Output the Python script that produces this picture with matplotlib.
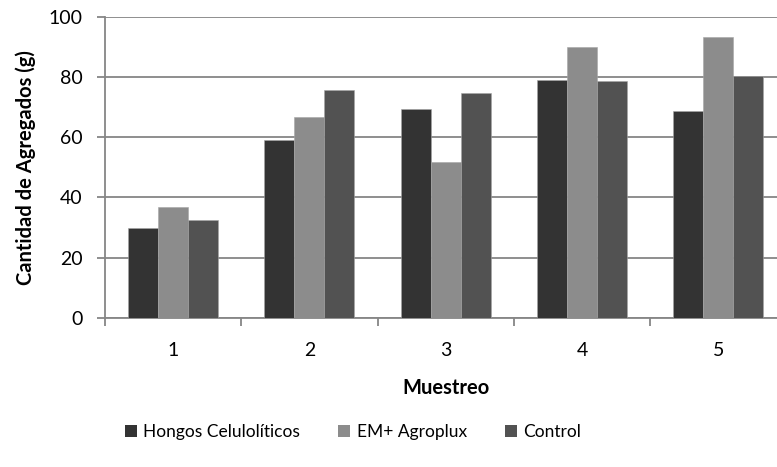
import matplotlib.pyplot as plt
from matplotlib.patches import Patch
from matplotlib.ticker import MultipleLocator

# Data
muestreos = ['1', '2', '3', '4', '5']
hongos = [30.0, 59.1, 69.5, 79.0, 68.6]
em_agroplux = [36.8, 66.7, 51.7, 89.8, 93.2]
control = [32.6, 75.6, 74.7, 78.7, 80.3]

series_names = ['Hongos Celulolíticos', 'EM+ Agroplux', 'Control']
colors = ['#333333', '#8c8c8c', '#525252']


def plot_agregados():
    plt.rcParams['font.family'] = ['Lato', 'DejaVu Sans']
    fig = plt.figure(figsize=(7.77, 4.67), dpi=100)
    # plot area runs past the right edge, as in the cropped original
    ax = fig.add_axes([105 / 777, 149 / 467, 681.5 / 777, 301.3 / 467])

    width = 0.22
    x = list(range(len(muestreos)))
    for i, (vals, name) in enumerate(zip([hongos, em_agroplux, control], series_names)):
        pos = [xi + (i - 1) * width for xi in x]
        ax.bar(pos, vals, width=width, color=colors[i], edgecolor='#a6a6a6',
               linewidth=0.4, label=name, zorder=3)

    grid_color = '#868686'
    ax.set_ylim(0, 100)
    ax.set_xlim(-0.5, len(muestreos) - 0.5)
    ax.yaxis.set_major_locator(MultipleLocator(20))
    ax.grid(axis='y', color=grid_color, linewidth=1.3, zorder=0)
    for side in ['top', 'right']:
        ax.spines[side].set_visible(False)
    for side in ['left', 'bottom']:
        ax.spines[side].set_color(grid_color)
        ax.spines[side].set_linewidth(1.3)

    ax.set_xticks(x)
    ax.set_xticklabels(muestreos)
    ax.set_xticks([xi - 0.5 for xi in x] + [len(x) - 0.5], minor=True)
    ax.tick_params(axis='x', which='major', length=0, pad=17, labelsize=14)
    ax.tick_params(axis='x', which='minor', length=6, width=1.3, color=grid_color)
    ax.tick_params(axis='y', length=6, width=1.3, color=grid_color, labelsize=14,
                   pad=10)

    ax.set_xlabel('Muestreo', fontsize=14.5, fontweight='bold', labelpad=14)
    ax.set_ylabel('Cantidad de Agregados (g)', fontsize=14.5, fontweight='bold',
                  labelpad=9)

    handles = [Patch(facecolor=c, edgecolor='none') for c in colors]
    fig.legend(handles, series_names, loc='center', ncol=3,
               bbox_to_anchor=(353 / 777, 1 - 432 / 467), frameon=False,
               fontsize=12.5, handlelength=0.7, handleheight=0.7,
               handletextpad=0.35, columnspacing=2.2)

    fig.savefig('out.png', dpi=100)


if __name__ == "__main__":
    plot_agregados()
